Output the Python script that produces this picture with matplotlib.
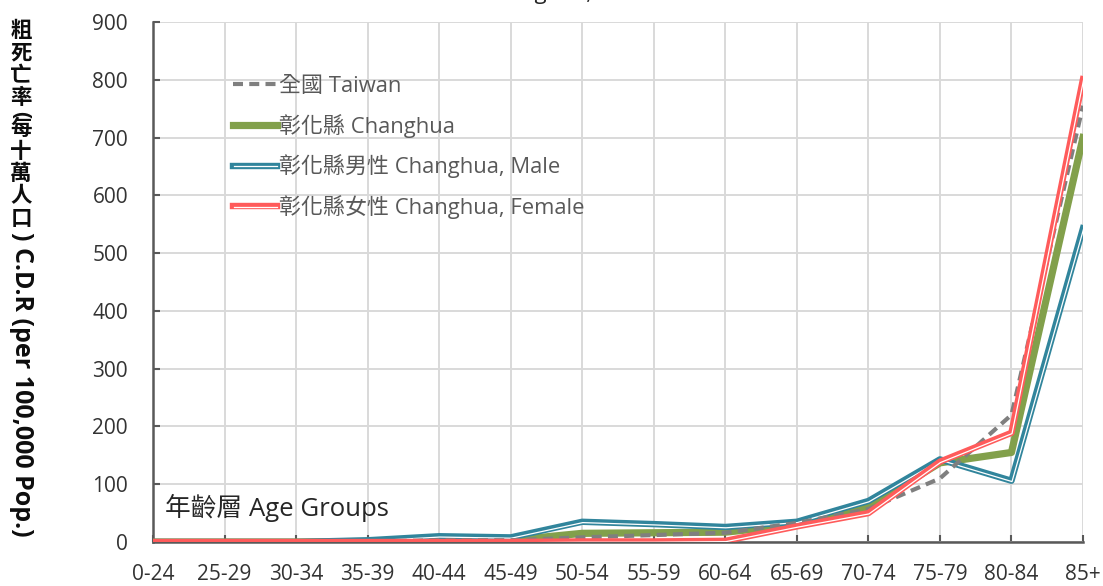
import numpy as np
import matplotlib
matplotlib.use("Agg")
import matplotlib.pyplot as plt
import matplotlib.patheffects as pe

plt.rcParams['font.family'] = ['Open Sans', 'Noto Sans CJK TC', 'DejaVu Sans']

# Age groups and crude death rates (per 100,000)
age_groups = ['0-24', '25-29', '30-34', '35-39', '40-44', '45-49', '50-54',
              '55-59', '60-64', '65-69', '70-74', '75-79', '80-84', '85+']
taiwan = [0, 0, 0, 1, 3, 3, 8, 12, 16, 33, 57, 110, 220, 755]
changhua = [0, 0, 0, 1, 4, 3, 15, 16, 17, 30, 61, 137, 155, 700]
changhua_male = [0, 0, 0, 3, 10, 8, 35, 31, 26, 35, 71, 143, 106, 543]
changhua_female = [0, 0, 0, 0, 0, 0, 1, 1, 2, 27, 50, 139, 189, 801]

labels = ['全國 Taiwan', '彰化縣 Changhua', '彰化縣男性 Changhua, Male',
          '彰化縣女性 Changhua, Female']
colors = ['#7f7f7f', '#82a04b', '#31859c', '#ff5b5b']

W, H = 1103, 586
fig = plt.figure(figsize=(W / 100, H / 100), dpi=100)
ax = fig.add_axes([153 / W, 44 / H, 930 / W, 520 / H])

x = np.arange(len(age_groups))

def double_line(c):
    # thick coloured line with a thin white stripe, like Excel's double line
    return [pe.Stroke(linewidth=4.6, foreground=c),
            pe.Stroke(linewidth=0.9, foreground='white', offset=(0.4, -0.6))]

ax.plot(x, changhua, color=colors[1], lw=5.2, label=labels[1], zorder=3)
ax.plot(x, changhua_male, color=colors[2], lw=0.9, label=labels[2], zorder=4,
        path_effects=double_line(colors[2]))
ax.plot(x, taiwan, color=colors[0], lw=3, ls=(0, (2.4, 1.5)),
        label=labels[0], zorder=5)
ax.plot(x, changhua_female, color=colors[3], lw=0.9, label=labels[3], zorder=6,
        path_effects=double_line(colors[3]))

ax.set_xlim(0, len(age_groups) - 1)
ax.set_ylim(0, 900)
ax.set_yticks(np.arange(0, 901, 100))
ax.set_xticks(x)
ax.set_xticklabels(age_groups)
ax.grid(True, color='#d9d9d9', lw=1.4)
ax.set_axisbelow(True)
for s in ['top', 'right']:
    ax.spines[s].set_visible(False)
for s in ['left', 'bottom']:
    ax.spines[s].set_color('#595959')
    ax.spines[s].set_linewidth(1.8)
    ax.spines[s].set_zorder(2)
ax.tick_params(axis='both', direction='in', length=5, width=1.5,
               color='#595959', labelsize=15, labelcolor='#333333')
ax.tick_params(axis='x', pad=16)
ax.tick_params(axis='y', pad=18)

handles, labs = ax.get_legend_handles_labels()
order = [2, 0, 1, 3]
leg = ax.legend([handles[i] for i in order], [labs[i] for i in order],
                loc='upper left', bbox_to_anchor=(222 / W, 1 - 65 / H),
                bbox_transform=fig.transFigure, frameon=False, fontsize=15.8,
                handlelength=2.0, handletextpad=0.1, labelspacing=0.76,
                borderpad=0)
for t in leg.get_texts():
    t.set_color('#595959')

ax.text(165 / W, 1 - 508 / H, '年齡層 Age Groups', transform=fig.transFigure,
        fontsize=18.5, color='#262626', va='center', ha='left')

# chart title, cut off by the top edge as in the original image
fig.text(592 / W, 1 + 1 / H, 'Crude Death Rate of Changhua,',
         fontsize=16, ha='right', va='baseline', color='#262626')

# vertical y-axis title: CJK upright, Latin rotated
ylab = [('粗', 0), ('死', 0), ('亡', 0), ('率', 0), ('(', 1), ('每', 0),
        ('十', 0), ('萬', 0), ('人', 0), ('口', 0),
        (') C.D.R (per 100,000 Pop.)', 1)]
ypos = 21
for txt, rot in ylab:
    if rot:
        fig.text(21 / W, 1 - ypos / H, txt, rotation=270, ha='center',
                 va='top', fontsize=18 if len(txt) > 1 else 15,
                 fontweight='bold', color='#0d0d0d')
        ypos += 8 if len(txt) == 1 else 0
    else:
        fig.text(21 / W, 1 - ypos / H, txt, ha='center', va='top',
                 fontsize=15.5, fontweight='bold', color='#0d0d0d')
        ypos += 22.5

fig.savefig('out.png', dpi=100)
